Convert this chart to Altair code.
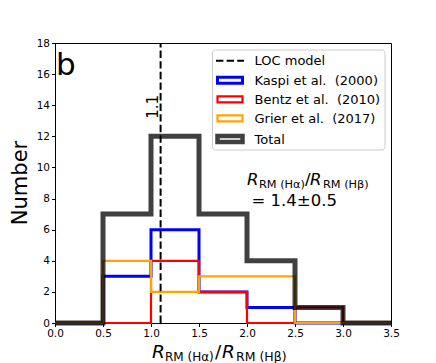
import altair as alt
import pandas as pd

# ---- data ----
bin_edges = [0.0, 0.5, 1.0, 1.5, 2.0, 2.5, 3.0, 3.5]
kaspi = [0, 3, 6, 2, 1, 0, 0]
bentz = [0, 0, 4, 2, 0, 1, 0]
grier = [0, 4, 2, 3, 3, 0, 0]
total = [0, 7, 12, 7, 4, 1, 0]
series_names = ["Kaspi", "Bentz", "Grier", "Total"]
series_values = [kaspi, bentz, grier, total]
loc_model = 1.1
loc_label = "1.1"
x_ticks = [0.0, 0.5, 1.0, 1.5, 2.0, 2.5, 3.0, 3.5]
y_ticks = [0, 2, 4, 6, 8, 10, 12, 14, 16, 18]
NB = "\u00a0"
legend_labels = ["LOC model", "Kaspi et al. " + NB + "(2000)", "Bentz et al. " + NB + "(2010)",
                 "Grier et al. " + NB + "(2017)", "Total"]

rows = []
for name, vals in zip(series_names, series_values):
    for i, e in enumerate(bin_edges):
        v = vals[i] if i < len(vals) else vals[-1]
        rows.append({"series": name, "edge": e, "count": v, "order": i})
df = pd.DataFrame(rows)
vline = pd.DataFrame({"edge": [loc_model], "count": [0], "top": [18],
                      "labely": [13.9], "label": [loc_label]})
one = pd.DataFrame({"a": [0]})

FONT = "DejaVu Sans"
W, H = 336, 280

xs = alt.Scale(domain=[0, 3.5], nice=False, zero=False)
ys = alt.Scale(domain=[0, 18], nice=False)
x_axis = alt.Axis(values=x_ticks, format=".1f", title=None, grid=False,
                  labelOverlap=False, labelFlush=False)
y_axis = alt.Axis(values=y_ticks, title=None, grid=False,
                  labelOverlap=False, labelFlush=False)
X = alt.X("edge:Q", scale=xs, axis=x_axis)

styles = {
    "Kaspi": dict(color="#0000ff", strokeWidth=3, opacity=1),
    "Bentz": dict(color="#ff0000", strokeWidth=2.2, opacity=1),
    "Grier": dict(color="#ffa500", strokeWidth=2.2, opacity=1),
    "Total": dict(color="#000000", strokeWidth=5, opacity=0.75),
}

layers = []
for name in series_names:
    st = styles[name]
    layers.append(
        alt.Chart(df).transform_filter(alt.datum.series == name)
        .mark_line(interpolate="step-after", color=st["color"],
                   strokeWidth=st["strokeWidth"], opacity=st["opacity"],
                   strokeJoin="miter", strokeCap="butt")
        .encode(x=X, y=alt.Y("count:Q", scale=ys, axis=y_axis), order="order:Q")
    )

# LOC model dashed line
layers.append(
    alt.Chart(vline).mark_rule(color="black", strokeWidth=2, strokeDash=[7.4, 3.2])
    .encode(x=X, y=alt.Y("count:Q", scale=ys, axis=y_axis), y2="top:Q")
)
layers.append(
    alt.Chart(vline).mark_text(font=FONT, fontSize=15, angle=270,
                               align="center", baseline="bottom", color="black")
    .encode(x=X, y=alt.Y("labely:Q", scale=ys, axis=y_axis), text="label:N")
)


def txt(s, x, y, size, **kw):
    return alt.Chart(one).mark_text(text=s, font=FONT, fontSize=size,
                                    color="black", **kw).encode(
        x=alt.value(x), y=alt.value(y))


# panel letter
layers.append(txt("b", 1, 32, 31, align="left", baseline="alphabetic"))

# legend box
layers.append(
    alt.Chart(one).mark_rect(fill="white", fillOpacity=0.8, stroke="#cccccc",
                             strokeWidth=1, cornerRadius=3)
    .encode(x=alt.value(157.5), x2=alt.value(330), y=alt.value(7), y2=alt.value(107))
)
row_y = [17.7, 37.3, 56.4, 75.4, 96.0]
layers.append(
    alt.Chart(one).mark_rule(color="black", strokeWidth=2, strokeDash=[7.4, 3.2])
    .encode(x=alt.value(161), x2=alt.value(189), y=alt.value(row_y[0]))
)
for name, ry in zip(series_names, row_y[1:]):
    st = styles[name]
    layers.append(
        alt.Chart(one).mark_rect(fillOpacity=0, stroke=st["color"],
                                 strokeWidth=st["strokeWidth"] if name != "Total" else 4.5,
                                 strokeOpacity=st["opacity"])
        .encode(x=alt.value(162.5), x2=alt.value(187.5),
                y=alt.value(ry - 3), y2=alt.value(ry + 3))
    )
for lab, ry in zip(legend_labels, row_y):
    layers.append(txt(lab, 199.5, ry + 0.5, 13, align="left", baseline="middle"))

# annotation inside plot
ab = 142
layers += [
    txt("R", 192, ab, 16.5, align="left", baseline="alphabetic", fontStyle="italic"),
    txt("RM (Hα)", 204, ab + 3.3, 11.3, align="left", baseline="alphabetic"),
    txt("/", 250, ab, 16.5, align="left", baseline="alphabetic"),
    txt("R", 255, ab, 16.5, align="left", baseline="alphabetic", fontStyle="italic"),
    txt("RM (Hβ)", 268, ab + 3.3, 11.3, align="left", baseline="alphabetic"),
    txt("= 1.4±0.5", 196.5, 163, 16.5, align="left", baseline="alphabetic"),
]

# axis titles
xb = 315
layers += [
    txt("R", 97, xb, 18.5, align="left", baseline="alphabetic", fontStyle="italic"),
    txt("RM (Hα)", 110, xb + 3, 12, align="left", baseline="alphabetic"),
    txt("/", 160, xb, 18.5, align="left", baseline="alphabetic"),
    txt("R", 167, xb, 18.5, align="left", baseline="alphabetic", fontStyle="italic"),
    txt("RM (Hβ)", 181, xb + 3, 12.5, align="left", baseline="alphabetic"),
    txt("Number", -34, 140, 21, align="center", baseline="middle", angle=270),
]

chart = (
    alt.layer(*layers)
    .properties(width=W, height=H,
                autosize=alt.AutoSizeParams(type="none"),
                padding={"left": 47, "top": 35, "right": 37, "bottom": 40})
    .configure_view(stroke="black", strokeWidth=1)
    .configure_axis(labelFont=FONT, labelFontSize=10.5, labelColor="black",
                    tickColor="black", domainColor="black", tickSize=3.5,
                    labelPadding=2, domainWidth=1, tickWidth=1)
)

chart.save("out.html", embed_options={"renderer": "svg", "actions": False})
